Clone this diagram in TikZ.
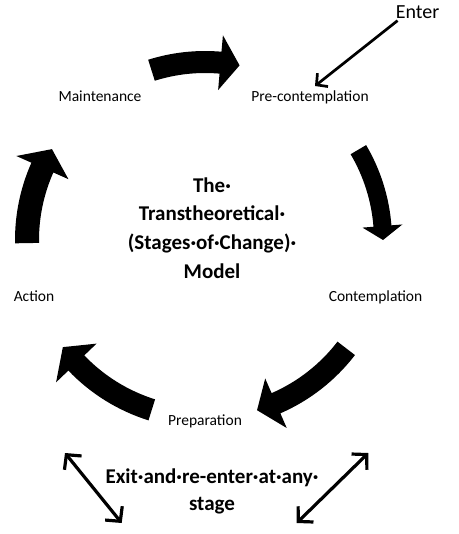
\documentclass[tikz,border=0pt]{standalone}
\usepackage{fontspec}
\setmainfont{Carlito}
\usetikzlibrary{arrows.meta}

\begin{document}
\begin{tikzpicture}[x=1pt,y=-1pt,
  stage/.style={inner sep=0pt,anchor=base,font=\fontsize{15.5}{18}\selectfont},
  heading/.style={inner sep=0pt,align=center,font=\bfseries\fontsize{21}{28.6}\selectfont},
  cyc/.style={fill=black},
  thin arrow/.style={line width=2.7pt,-{Straight Barb[length=8pt,width=17pt]}},
  both arrow/.style={line width=3.2pt,{Straight Barb[length=10.5pt,width=22pt]}-{Straight Barb[length=10.5pt,width=22pt]}}]
\useasboundingbox (0,0) rectangle (458,534);
\coordinate (c) at (205,240);

% stages
\node[stage] (maint) at (100,101.7) {Maintenance};
\node[stage] (pre) at (310,101.7) {Pre-contemplation};
\node[stage] (contemp) at (375.5,301.7) {Contemplation};
\node[stage] (action) at (34,301.7) {Action};
\node[stage] (prep) at (205,425.7) {Preparation};
\node[inner sep=0pt,anchor=base,font=\fontsize{20}{24}\selectfont] (enter) at (417.5,18.3) {Enter};

% titles
\node[heading] (model) at (212,228) {The·\\Transtheoretical·\\(Stages·of·Change)·\\Model};
\node[heading,font=\bfseries\fontsize{21}{27}\selectfont] (exit) at (212,491) {Exit·and·re-enter·at·any·\\stage};

% cycle arrows
\fill[cyc] ([shift={(c)}]-107.5:189) arc[start angle=-107.5,end angle=-85,radius=189] -- ([shift={(c)}]-85:205.5) -- ([shift={(c)}]-78.8:178) -- ([shift={(c)}]-85:150.5) -- ([shift={(c)}]-85:167) arc[start angle=-85,end angle=-107.5,radius=167] -- cycle;
\fill[cyc] ([shift={(c)}]-30.5:187) arc[start angle=-30.5,end angle=-4.5,radius=187] -- ([shift={(c)}]-4.5:198) -- ([shift={(c)}]0:178) -- ([shift={(c)}]-4.5:158) -- ([shift={(c)}]-4.5:169) arc[start angle=-4.5,end angle=-30.5,radius=169] -- cycle;
\fill[cyc] ([shift={(c)}]37.5:189) arc[start angle=37.5,end angle=66.5,radius=189] -- ([shift={(c)}]66.5:205) -- ([shift={(c)}]73:178) -- ([shift={(c)}]66.5:151) -- ([shift={(c)}]66.5:167) arc[start angle=66.5,end angle=37.5,radius=167] -- cycle;
\fill[cyc] ([shift={(c)}]107.4:189) arc[start angle=107.4,end angle=136.3,radius=189] -- ([shift={(c)}]136.3:206) -- ([shift={(c)}]143:178) -- ([shift={(c)}]136.3:150) -- ([shift={(c)}]136.3:167) arc[start angle=136.3,end angle=107.4,radius=167] -- cycle;
\fill[cyc] ([shift={(c)}]179:190) arc[start angle=179,end angle=204,radius=190] -- ([shift={(c)}]204:206.5) -- ([shift={(c)}]210.7:178) -- ([shift={(c)}]204:149.5) -- ([shift={(c)}]204:166) arc[start angle=204,end angle=179,radius=166] -- cycle;

% enter and exit
\coordinate (entertip) at (315,86);
\draw[thin arrow] ([shift={(2,2)}]enter.south west) -- (entertip);
\coordinate (exitl1) at (65,453);
\coordinate (exitl2) at (121.7,523);
\coordinate (exitr1) at (368.3,453);
\coordinate (exitr2) at (296.7,523);
\draw[both arrow] (exitl1) -- (exitl2);
\draw[both arrow] (exitr1) -- (exitr2);
\end{tikzpicture}
\end{document}
